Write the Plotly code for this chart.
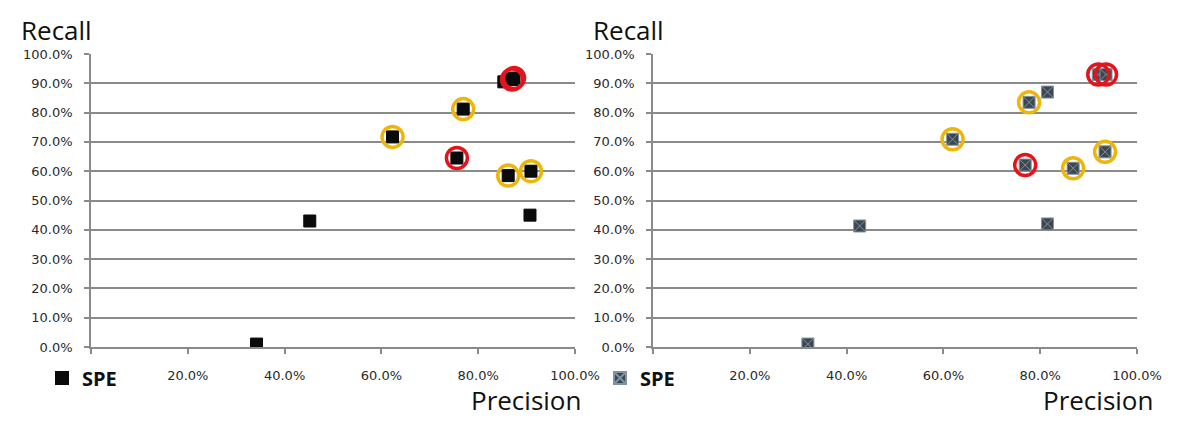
import plotly.graph_objects as go

# ---------------- data ----------------
left_precision = [0.342, 0.452, 0.623, 0.769, 0.756, 0.862, 0.909, 0.907, 0.853, 0.870, 0.874]
left_recall    = [0.010, 0.430, 0.717, 0.812, 0.645, 0.585, 0.600, 0.450, 0.905, 0.913, 0.918]
left_mark      = ["", "", "yellow", "yellow", "red", "yellow", "yellow", "", "", "red", "red"]

right_precision = [0.320, 0.427, 0.619, 0.777, 0.815, 0.769, 0.868, 0.934, 0.815, 0.920, 0.936]
right_recall    = [0.010, 0.413, 0.709, 0.835, 0.870, 0.621, 0.610, 0.666, 0.420, 0.930, 0.930]
right_mark      = ["", "", "yellow", "yellow", "", "red", "yellow", "yellow", "", "red", "red"]

series_name = "SPE"
x_ticks = [0, 0.2, 0.4, 0.6, 0.8, 1.0]
x_ticktext = ["", "20.0%", "40.0%", "60.0%", "80.0%", "100.0%"]
y_ticks = [0, 0.1, 0.2, 0.3, 0.4, 0.5, 0.6, 0.7, 0.8, 0.9, 1.0]
y_ticktext = ["0.0%", "10.0%", "20.0%", "30.0%", "40.0%", "50.0%", "60.0%", "70.0%", "80.0%", "90.0%", "100.0%"]
x_title = "Precision"
y_title = "Recall"

# ---------------- layout helpers ----------------
W, H = 1200, 425
def px(x):
    return x / W
def py(y):
    return 1 - y / H

YELLOW = "#EDB60A"
RED = "#E3151C"
GRID = "#8A8A8A"

fig = go.Figure()

panels = [
    dict(px_=left_precision, rc=left_recall, mk=left_mark, xa="x", ya="y",
         color="#0A0A0A", line="#0A0A0A", symbol="square", size=12, legend="legend"),
    dict(px_=right_precision, rc=right_recall, mk=right_mark, xa="x2", ya="y2",
         color="#3E474F", line="#7E93A3", symbol="square-x", size=12, legend="legend2"),
]

for p in panels:
    fig.add_trace(go.Scatter(
        x=p["px_"], y=p["rc"], mode="markers", name="<b>" + series_name + "</b>",
        xaxis=p["xa"], yaxis=p["ya"], legend=p["legend"], showlegend=True,
        marker=dict(symbol=p["symbol"], size=p["size"], color=p["color"],
                    line=dict(color=p["line"], width=1)),
    ))
    for col_name, col in (("yellow", YELLOW), ("red", RED)):
        xs = [x for x, m in zip(p["px_"], p["mk"]) if m == col_name]
        ys = [y for y, m in zip(p["rc"], p["mk"]) if m == col_name]
        fig.add_trace(go.Scatter(
            x=xs, y=ys, mode="markers", showlegend=False,
            xaxis=p["xa"], yaxis=p["ya"],
            marker=dict(symbol="circle-open", size=21, color=col,
                        line=dict(color=col, width=3.5)),
        ))

tickfont = dict(family="DejaVu Sans", size=13, color="#2A2A2A")
common_x = dict(range=[0, 1], tickvals=x_ticks, ticktext=x_ticktext, showgrid=False,
                zeroline=False, showline=True, linecolor=GRID, linewidth=1.5,
                ticks="outside", ticklen=5, tickcolor=GRID, tickwidth=1.5,
                tickfont=tickfont, ticklabelstandoff=11, fixedrange=True, automargin=False)
common_y = dict(range=[0, 1], tickvals=y_ticks, ticktext=y_ticktext, showgrid=True,
                gridcolor=GRID, gridwidth=1.5, zeroline=False, showline=True,
                linecolor=GRID, linewidth=1.5, ticks="outside", ticklen=5,
                tickcolor=GRID, tickwidth=1.5, tickfont=tickfont,
                ticklabelstandoff=9, fixedrange=True, automargin=False)

ydom = [py(347), py(54)]
legend_font = dict(family="Open Sans", size=20, color="#111")
fig.update_layout(
    width=W, height=H,
    margin=dict(l=0, r=0, t=0, b=0, autoexpand=False),
    paper_bgcolor="white", plot_bgcolor="white",
    xaxis=dict(domain=[px(91), px(575)], anchor="y", **common_x),
    yaxis=dict(domain=ydom, anchor="x", **common_y),
    xaxis2=dict(domain=[px(653), px(1137)], anchor="y2", **common_x),
    yaxis2=dict(domain=ydom, anchor="x2", **common_y),
    legend=dict(x=px(42), y=py(378), xanchor="left", yanchor="middle",
                bgcolor="rgba(0,0,0,0)", font=legend_font, itemsizing="constant"),
    legend2=dict(x=px(600), y=py(378), xanchor="left", yanchor="middle",
                 bgcolor="rgba(0,0,0,0)", font=legend_font, itemsizing="constant"),
    showlegend=True,
)

title_font = dict(family="Open Sans", size=26, color="#111")
for xl, xr in ((19, 469), (591, 1041)):
    fig.add_annotation(text=y_title, xref="paper", yref="paper", x=px(xl), y=py(30),
                       xanchor="left", yanchor="middle", showarrow=False, font=title_font)
    fig.add_annotation(text=x_title, xref="paper", yref="paper", x=px(xr), y=py(400),
                       xanchor="left", yanchor="middle", showarrow=False, font=title_font)

fig.write_html("out.html", config={"displayModeBar": False},
               post_script="document.body.style.margin='0';")
